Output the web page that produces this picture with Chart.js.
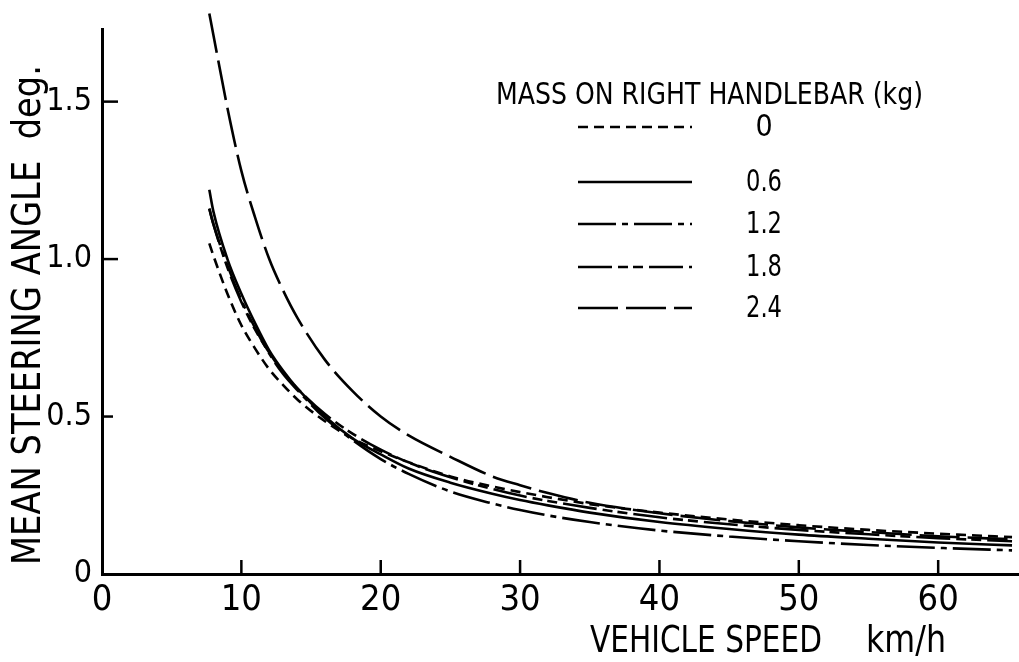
<!DOCTYPE html>
<html><head><meta charset="utf-8">
<script src="https://cdn.jsdelivr.net/npm/chart.js@4"></script>
<style>html,body{margin:0;padding:0;background:#fff}#wrap{width:1019px;height:662px;position:relative}</style>
</head><body><div id="wrap"><canvas id="c" width="1019" height="662"></canvas></div>
<script>
// ---- data ----
const speeds = [7.7, 8, 9, 10, 11, 12, 13, 14, 16, 18, 20, 22, 25, 28, 30, 32, 35, 40, 45, 50, 55, 60, 65.3];
const mass0  = [1.05, 1.01, 0.89, 0.79, 0.715, 0.65, 0.60, 0.555, 0.485, 0.43, 0.39, 0.355, 0.31, 0.278, 0.26, 0.244, 0.222, 0.195, 0.173, 0.155, 0.14, 0.128, 0.117];
const mass06 = [1.22, 1.15, 1.00, 0.89, 0.795, 0.71, 0.645, 0.59, 0.50, 0.43, 0.38, 0.335, 0.29, 0.255, 0.235, 0.218, 0.195, 0.165, 0.143, 0.125, 0.112, 0.10, 0.091];
const mass12 = [1.16, 1.11, 0.98, 0.87, 0.78, 0.70, 0.635, 0.585, 0.495, 0.425, 0.365, 0.318, 0.262, 0.224, 0.203, 0.186, 0.165, 0.138, 0.119, 0.104, 0.092, 0.083, 0.075];
const mass18 = [1.16, 1.11, 0.973, 0.864, 0.775, 0.703, 0.64, 0.59, 0.508, 0.445, 0.395, 0.354, 0.307, 0.27, 0.249, 0.232, 0.21, 0.18, 0.158, 0.14, 0.126, 0.114, 0.104];
const mass24 = [1.78, 1.71, 1.48, 1.28, 1.13, 1.0, 0.90, 0.815, 0.68, 0.58, 0.50, 0.44, 0.372, 0.31, 0.282, 0.257, 0.226, 0.193, 0.168, 0.148, 0.133, 0.12, 0.11];
const seriesLabels = ['0', '0.6', '1.2', '1.8', '2.4'];
const xTicks = [0, 10, 20, 30, 40, 50, 60];
const xTickLabels = ['0', '10', '20', '30', '40', '50', '60'];
const yTicks = [0, 0.5, 1.0, 1.5];
const yTickLabels = ['0', '0.5', '1.0', '1.5'];
const legendTitle = 'MASS ON RIGHT HANDLEBAR (kg)';
const xTitle = 'VEHICLE SPEED';
const xUnit = 'km/h';
const yTitle = 'MEAN STEERING ANGLE  deg.';

// ---- styles ----
const FONT = "'Liberation Sans Narrow', 'DejaVu Sans Condensed', 'Liberation Sans', sans-serif";
const INK = '#000';
const dashes = [[10, 6], [], [38, 6, 6, 6], [34, 6, 10, 5, 10, 6], [40, 8]];
const allSeries = [mass0, mass06, mass12, mass18, mass24];

const datasets = allSeries.map((vals, i) => ({
  label: seriesLabels[i],
  data: speeds.map((s, k) => ({ x: s, y: vals[k] })),
  borderColor: INK,
  borderWidth: 2.6,
  borderDash: dashes[i],
  pointRadius: 0,
  fill: false,
  cubicInterpolationMode: 'monotone',
  clip: false
}));

// draw text squeezed horizontally to a given width (text stays real text)
function fitText(ctx, text, x, y, width) {
  const w = ctx.measureText(text).width;
  ctx.save();
  ctx.translate(x, y);
  ctx.scale(Math.min(1, width / w), 1);
  ctx.fillText(text, 0, 0);
  ctx.restore();
}

const decor = {
  id: 'decor',
  afterDraw(chart) {
    const ctx = chart.ctx;
    const xs = chart.scales.x, ys = chart.scales.y;
    const ca = chart.chartArea;
    ctx.save();
    ctx.strokeStyle = INK; ctx.fillStyle = INK; ctx.lineWidth = 2.5; ctx.setLineDash([]);
    // inward tick marks
    yTicks.forEach(v => {
      if (v === 0) return;
      const y = ys.getPixelForValue(v);
      ctx.beginPath(); ctx.moveTo(ca.left, y); ctx.lineTo(ca.left + (v === 0.5 ? 11 : 16), y); ctx.stroke();
    });
    xTicks.forEach(v => {
      if (v === 0) return;
      const x = xs.getPixelForValue(v);
      ctx.beginPath(); ctx.moveTo(x, ca.bottom); ctx.lineTo(x, ca.bottom - 14); ctx.stroke();
    });
    // axis titles
    ctx.font = '38px ' + FONT;
    ctx.textBaseline = 'alphabetic';
    ctx.textAlign = 'left';
    fitText(ctx, xTitle, 590, 652, 232);
    fitText(ctx, xUnit, 866, 652, 80);
    ctx.save();
    ctx.translate(40, 565);
    ctx.rotate(-Math.PI / 2);
    ctx.font = '39px ' + FONT;
    fitText(ctx, yTitle, 0, 0, 500);
    ctx.restore();
    // legend
    ctx.font = '31px ' + FONT;
    ctx.textAlign = 'left';
    fitText(ctx, legendTitle, 496, 104, 427);
    const rowY = [127, 182, 224, 267, 308];
    ctx.font = '30px ' + FONT;
    ctx.textAlign = 'center';
    ctx.textBaseline = 'middle';
    seriesLabels.forEach((lab, i) => {
      ctx.setLineDash(dashes[i]);
      ctx.lineWidth = 2.6;
      ctx.beginPath(); ctx.moveTo(578, rowY[i]); ctx.lineTo(692, rowY[i]); ctx.stroke();
      ctx.setLineDash([]);
      fitText(ctx, lab, 764, rowY[i] + 1, 36);
    });
    ctx.restore();
  }
};

new Chart(document.getElementById('c'), {
  type: 'line',
  data: { datasets },
  options: {
    responsive: false,
    animation: false,
    devicePixelRatio: 1,
    layout: { padding: { top: 27, left: 0, right: 0, bottom: 0 } },
    plugins: { legend: { display: false }, tooltip: { enabled: false }, title: { display: false } },
    scales: {
      x: {
        type: 'linear', min: 0, max: 65.8,
        afterBuildTicks: s => { s.ticks = xTicks.map(v => ({ value: v })); },
        afterFit: s => { s.height = 88; },
        grid: { display: false, drawTicks: false, tickLength: 0 },
        border: { display: true, color: INK, width: 3 },
        ticks: { color: INK, font: { family: FONT, size: 36 }, padding: 5, maxRotation: 0, autoSkip: false,
                 callback: (v, i) => xTickLabels[i] }
      },
      y: {
        type: 'linear', min: 0, max: 1.73,
        afterBuildTicks: s => { s.ticks = yTicks.map(v => ({ value: v })); },
        afterFit: s => { s.width = 102; },
        grid: { display: false, drawTicks: false, tickLength: 0 },
        border: { display: true, color: INK, width: 3 },
        ticks: { color: INK, font: { family: FONT, size: 32 }, padding: 10, autoSkip: false,
                 callback: (v, i) => yTickLabels[i] }
      }
    }
  },
  plugins: [decor]
});
</script>
</body></html>
